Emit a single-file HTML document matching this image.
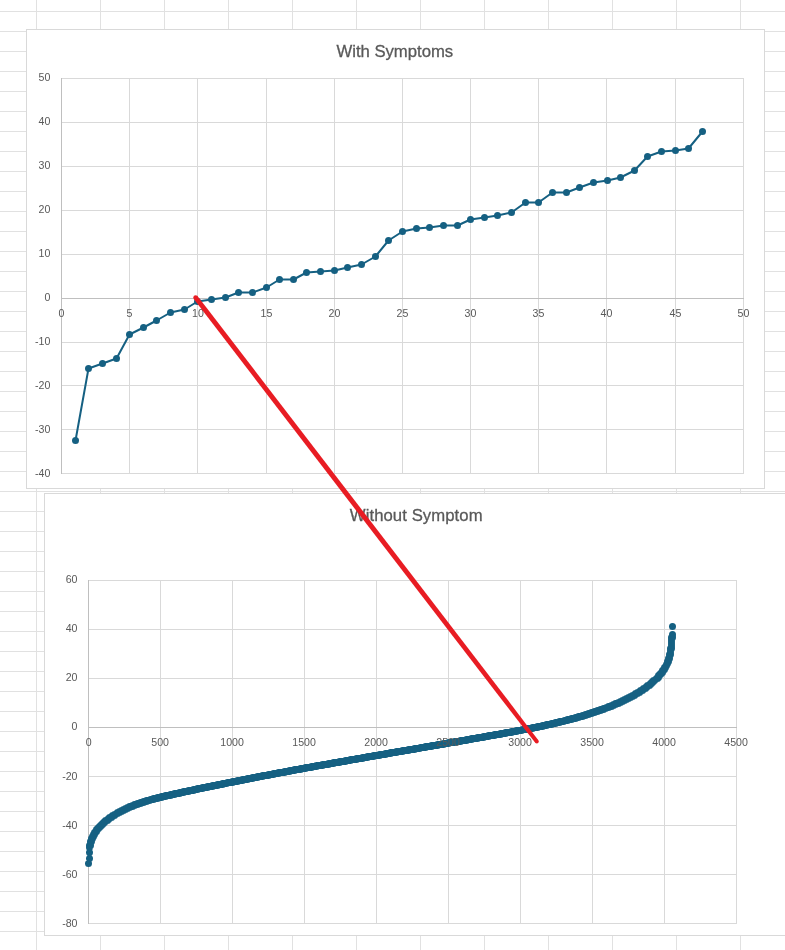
<!DOCTYPE html><html><head><meta charset="utf-8"><title>Charts</title>
<style>html,body{margin:0;padding:0;background:#fff;}body{width:785px;height:950px;overflow:hidden;position:relative;}svg{position:absolute;left:0;top:0;display:block;}text{font-family:"Liberation Sans",sans-serif;fill:#595959;}</style></head><body>
<svg width="785" height="950" viewBox="0 0 785 950">
<rect width="785" height="950" fill="#fff"/>
<path d="M36.5 0V950M100.5 0V950M164.5 0V950M228.5 0V950M292.5 0V950M356.5 0V950M420.5 0V950M484.5 0V950M548.5 0V950M612.5 0V950M676.5 0V950M740.5 0V950M0 11.5H785M0 31.5H785M0 51.5H785M0 71.5H785M0 91.5H785M0 111.5H785M0 131.5H785M0 151.5H785M0 171.5H785M0 191.5H785M0 211.5H785M0 231.5H785M0 251.5H785M0 271.5H785M0 291.5H785M0 311.5H785M0 331.5H785M0 351.5H785M0 371.5H785M0 391.5H785M0 411.5H785M0 431.5H785M0 451.5H785M0 471.5H785M0 491.5H785M0 511.5H785M0 531.5H785M0 551.5H785M0 571.5H785M0 591.5H785M0 611.5H785M0 631.5H785M0 651.5H785M0 671.5H785M0 691.5H785M0 711.5H785M0 731.5H785M0 751.5H785M0 771.5H785M0 791.5H785M0 811.5H785M0 831.5H785M0 851.5H785M0 871.5H785M0 891.5H785M0 911.5H785M0 931.5H785" stroke="#e1e1e1" stroke-width="1" fill="none"/>
<rect x="26.5" y="29.5" width="738.0" height="459.0" fill="#fff" stroke="#d9d9d9" stroke-width="1"/>
<path d="M129.5 78.0V474.0M197.5 78.0V474.0M266.5 78.0V474.0M334.5 78.0V474.0M402.5 78.0V474.0M470.5 78.0V474.0M538.5 78.0V474.0M606.5 78.0V474.0M675.5 78.0V474.0M743.5 78.0V474.0M61.0 78.5H744.0M61.0 122.5H744.0M61.0 166.5H744.0M61.0 210.5H744.0M61.0 254.5H744.0M61.0 342.5H744.0M61.0 385.5H744.0M61.0 429.5H744.0M61.0 473.5H744.0" stroke="#d9d9d9" stroke-width="1" fill="none"/>
<path d="M61.5 78.0V474.0M61.0 298.5H744.0" stroke="#bfbfbf" stroke-width="1" fill="none"/>
<polyline points="75.5,440.5 88.5,368.5 102.5,363.5 116.5,358.5 129.5,334.5 143.5,327.5 156.5,320.5 170.5,312.5 184.5,309.5 197.5,301.5 211.5,299.5 225.5,297.5 238.5,292.5 252.5,292.5 266.5,287.5 279.5,279.5 293.5,279.5 306.5,272.5 320.5,271.5 334.5,270.5 347.5,267.5 361.5,264.5 375.5,256.5 388.5,240.5 402.5,231.5 416.5,228.5 429.5,227.5 443.5,225.5 457.5,225.5 470.5,219.5 484.5,217.5 497.5,215.5 511.5,212.5 525.5,202.5 538.5,202.5 552.5,192.5 566.5,192.5 579.5,187.5 593.5,182.5 607.5,180.5 620.5,177.5 634.5,170.5 647.5,156.5 661.5,151.5 675.5,150.5 688.5,148.5 702.5,131.5" fill="none" stroke="#156082" stroke-width="2" stroke-linejoin="round" stroke-linecap="round"/>
<g fill="#156082"><circle cx="75.5" cy="440.5" r="3.5"/><circle cx="88.5" cy="368.5" r="3.5"/><circle cx="102.5" cy="363.5" r="3.5"/><circle cx="116.5" cy="358.5" r="3.5"/><circle cx="129.5" cy="334.5" r="3.5"/><circle cx="143.5" cy="327.5" r="3.5"/><circle cx="156.5" cy="320.5" r="3.5"/><circle cx="170.5" cy="312.5" r="3.5"/><circle cx="184.5" cy="309.5" r="3.5"/><circle cx="197.5" cy="301.5" r="3.5"/><circle cx="211.5" cy="299.5" r="3.5"/><circle cx="225.5" cy="297.5" r="3.5"/><circle cx="238.5" cy="292.5" r="3.5"/><circle cx="252.5" cy="292.5" r="3.5"/><circle cx="266.5" cy="287.5" r="3.5"/><circle cx="279.5" cy="279.5" r="3.5"/><circle cx="293.5" cy="279.5" r="3.5"/><circle cx="306.5" cy="272.5" r="3.5"/><circle cx="320.5" cy="271.5" r="3.5"/><circle cx="334.5" cy="270.5" r="3.5"/><circle cx="347.5" cy="267.5" r="3.5"/><circle cx="361.5" cy="264.5" r="3.5"/><circle cx="375.5" cy="256.5" r="3.5"/><circle cx="388.5" cy="240.5" r="3.5"/><circle cx="402.5" cy="231.5" r="3.5"/><circle cx="416.5" cy="228.5" r="3.5"/><circle cx="429.5" cy="227.5" r="3.5"/><circle cx="443.5" cy="225.5" r="3.5"/><circle cx="457.5" cy="225.5" r="3.5"/><circle cx="470.5" cy="219.5" r="3.5"/><circle cx="484.5" cy="217.5" r="3.5"/><circle cx="497.5" cy="215.5" r="3.5"/><circle cx="511.5" cy="212.5" r="3.5"/><circle cx="525.5" cy="202.5" r="3.5"/><circle cx="538.5" cy="202.5" r="3.5"/><circle cx="552.5" cy="192.5" r="3.5"/><circle cx="566.5" cy="192.5" r="3.5"/><circle cx="579.5" cy="187.5" r="3.5"/><circle cx="593.5" cy="182.5" r="3.5"/><circle cx="607.5" cy="180.5" r="3.5"/><circle cx="620.5" cy="177.5" r="3.5"/><circle cx="634.5" cy="170.5" r="3.5"/><circle cx="647.5" cy="156.5" r="3.5"/><circle cx="661.5" cy="151.5" r="3.5"/><circle cx="675.5" cy="150.5" r="3.5"/><circle cx="688.5" cy="148.5" r="3.5"/><circle cx="702.5" cy="131.5" r="3.5"/></g>
<text x="50.3" y="81.00" font-size="10.6" text-anchor="end">50</text>
<text x="50.3" y="125.00" font-size="10.6" text-anchor="end">40</text>
<text x="50.3" y="169.00" font-size="10.6" text-anchor="end">30</text>
<text x="50.3" y="213.00" font-size="10.6" text-anchor="end">20</text>
<text x="50.3" y="257.00" font-size="10.6" text-anchor="end">10</text>
<text x="50.3" y="301.00" font-size="10.6" text-anchor="end">0</text>
<text x="50.3" y="345.00" font-size="10.6" text-anchor="end">-10</text>
<text x="50.3" y="388.90" font-size="10.6" text-anchor="end">-20</text>
<text x="50.3" y="432.90" font-size="10.6" text-anchor="end">-30</text>
<text x="50.3" y="476.90" font-size="10.6" text-anchor="end">-40</text>
<text x="61.50" y="317.30" font-size="10.6" text-anchor="middle">0</text>
<text x="129.50" y="317.30" font-size="10.6" text-anchor="middle">5</text>
<text x="198.00" y="317.30" font-size="10.6" text-anchor="middle">10</text>
<text x="266.50" y="317.30" font-size="10.6" text-anchor="middle">15</text>
<text x="334.50" y="317.30" font-size="10.6" text-anchor="middle">20</text>
<text x="402.50" y="317.30" font-size="10.6" text-anchor="middle">25</text>
<text x="470.50" y="317.30" font-size="10.6" text-anchor="middle">30</text>
<text x="538.50" y="317.30" font-size="10.6" text-anchor="middle">35</text>
<text x="606.50" y="317.30" font-size="10.6" text-anchor="middle">40</text>
<text x="675.50" y="317.30" font-size="10.6" text-anchor="middle">45</text>
<text x="743.50" y="317.30" font-size="10.6" text-anchor="middle">50</text>
<text x="394.8" y="56.8" font-size="16.7" textLength="116.7" text-anchor="middle" id="t1" stroke="#595959" stroke-width="0.3">With Symptoms</text>
<rect x="44.5" y="493.5" width="744.0" height="442.0" fill="#fff" stroke="#d9d9d9" stroke-width="1"/>
<path d="M160.5 580.0V924.0M232.5 580.0V924.0M304.5 580.0V924.0M376.5 580.0V924.0M448.5 580.0V924.0M520.5 580.0V924.0M592.5 580.0V924.0M664.5 580.0V924.0M736.5 580.0V924.0M88.0 580.5H737.0M88.0 629.5H737.0M88.0 678.5H737.0M88.0 776.5H737.0M88.0 825.5H737.0M88.0 874.5H737.0M88.0 923.5H737.0" stroke="#d9d9d9" stroke-width="1" fill="none"/>
<path d="M88.5 580.0V924.0M88.0 727.5H737.0" stroke="#bfbfbf" stroke-width="1" fill="none"/>
<path d="M88.5 863.5h0M89.5 858.5h0M89.5 852.5h0M89.5 847.5h0M89.5 846.5h0M89.5 845.5h0M90.5 845.5h0M90.5 844.5h0M90.5 843.5h0M90.5 842.5h0M90.5 841.5h0M91.5 841.5h0M91.5 840.5h0M91.5 839.5h0M91.5 838.5h0M92.5 838.5h0M92.5 837.5h0M92.5 836.5h0M93.5 836.5h0M93.5 835.5h0M93.5 834.5h0M94.5 834.5h0M94.5 833.5h0M94.5 832.5h0M95.5 832.5h0M95.5 831.5h0M96.5 831.5h0M96.5 830.5h0M96.5 829.5h0M97.5 829.5h0M97.5 828.5h0M98.5 828.5h0M98.5 827.5h0M99.5 827.5h0M99.5 826.5h0M100.5 826.5h0M100.5 825.5h0M101.5 825.5h0M101.5 824.5h0M102.5 824.5h0M102.5 823.5h0M103.5 823.5h0M103.5 822.5h0M104.5 822.5h0M104.5 821.5h0M105.5 821.5h0M105.5 820.5h0M106.5 820.5h0M107.5 820.5h0M107.5 819.5h0M108.5 819.5h0M108.5 818.5h0M109.5 818.5h0M109.5 817.5h0M110.5 817.5h0M111.5 817.5h0M111.5 816.5h0M112.5 816.5h0M112.5 815.5h0M113.5 815.5h0M114.5 815.5h0M114.5 814.5h0M115.5 814.5h0M116.5 813.5h0M117.5 813.5h0M117.5 812.5h0M118.5 812.5h0M119.5 812.5h0M119.5 811.5h0M120.5 811.5h0M121.5 811.5h0M121.5 810.5h0M122.5 810.5h0M123.5 810.5h0M123.5 809.5h0M124.5 809.5h0M125.5 809.5h0M125.5 808.5h0M126.5 808.5h0M127.5 808.5h0M127.5 807.5h0M128.5 807.5h0M129.5 807.5h0M129.5 806.5h0M130.5 806.5h0M131.5 806.5h0M132.5 806.5h0M132.5 805.5h0M133.5 805.5h0M134.5 805.5h0M134.5 804.5h0M135.5 804.5h0M136.5 804.5h0M137.5 804.5h0M137.5 803.5h0M138.5 803.5h0M139.5 803.5h0M140.5 803.5h0M140.5 802.5h0M141.5 802.5h0M142.5 802.5h0M143.5 802.5h0M143.5 801.5h0M144.5 801.5h0M145.5 801.5h0M146.5 801.5h0M146.5 800.5h0M147.5 800.5h0M148.5 800.5h0M149.5 800.5h0M150.5 799.5h0M151.5 799.5h0M152.5 799.5h0M153.5 799.5h0M153.5 798.5h0M154.5 798.5h0M155.5 798.5h0M156.5 798.5h0M157.5 798.5h0M157.5 797.5h0M158.5 797.5h0M159.5 797.5h0M160.5 797.5h0M161.5 797.5h0M161.5 796.5h0M162.5 796.5h0M163.5 796.5h0M164.5 796.5h0M165.5 796.5h0M165.5 795.5h0M166.5 795.5h0M167.5 795.5h0M168.5 795.5h0M169.5 795.5h0M170.5 795.5h0M170.5 794.5h0M171.5 794.5h0M172.5 794.5h0M173.5 794.5h0M174.5 794.5h0M174.5 793.5h0M175.5 793.5h0M176.5 793.5h0M177.5 793.5h0M178.5 793.5h0M179.5 793.5h0M179.5 792.5h0M180.5 792.5h0M181.5 792.5h0M182.5 792.5h0M183.5 792.5h0M183.5 791.5h0M184.5 791.5h0M185.5 791.5h0M186.5 791.5h0M187.5 791.5h0M188.5 791.5h0M188.5 790.5h0M189.5 790.5h0M190.5 790.5h0M191.5 790.5h0M192.5 790.5h0M193.5 790.5h0M193.5 789.5h0M194.5 789.5h0M195.5 789.5h0M196.5 789.5h0M197.5 789.5h0M197.5 788.5h0M198.5 788.5h0M199.5 788.5h0M200.5 788.5h0M201.5 788.5h0M202.5 788.5h0M202.5 787.5h0M203.5 787.5h0M204.5 787.5h0M205.5 787.5h0M206.5 787.5h0M207.5 787.5h0M207.5 786.5h0M208.5 786.5h0M209.5 786.5h0M210.5 786.5h0M211.5 786.5h0M212.5 786.5h0M212.5 785.5h0M213.5 785.5h0M214.5 785.5h0M215.5 785.5h0M216.5 785.5h0M217.5 785.5h0M217.5 784.5h0M218.5 784.5h0M219.5 784.5h0M220.5 784.5h0M221.5 784.5h0M222.5 784.5h0M222.5 783.5h0M223.5 783.5h0M224.5 783.5h0M225.5 783.5h0M226.5 783.5h0M227.5 782.5h0M228.5 782.5h0M229.5 782.5h0M230.5 782.5h0M231.5 782.5h0M232.5 782.5h0M232.5 781.5h0M233.5 781.5h0M234.5 781.5h0M235.5 781.5h0M236.5 781.5h0M237.5 781.5h0M237.5 780.5h0M238.5 780.5h0M239.5 780.5h0M240.5 780.5h0M241.5 780.5h0M242.5 780.5h0M242.5 779.5h0M243.5 779.5h0M244.5 779.5h0M245.5 779.5h0M246.5 779.5h0M247.5 779.5h0M247.5 778.5h0M248.5 778.5h0M249.5 778.5h0M250.5 778.5h0M251.5 778.5h0M252.5 778.5h0M252.5 777.5h0M253.5 777.5h0M254.5 777.5h0M255.5 777.5h0M256.5 777.5h0M257.5 777.5h0M257.5 776.5h0M258.5 776.5h0M259.5 776.5h0M260.5 776.5h0M261.5 776.5h0M262.5 776.5h0M262.5 775.5h0M263.5 775.5h0M264.5 775.5h0M265.5 775.5h0M266.5 775.5h0M267.5 775.5h0M268.5 775.5h0M268.5 774.5h0M269.5 774.5h0M270.5 774.5h0M271.5 774.5h0M272.5 774.5h0M273.5 774.5h0M273.5 773.5h0M274.5 773.5h0M275.5 773.5h0M276.5 773.5h0M277.5 773.5h0M278.5 773.5h0M278.5 772.5h0M279.5 772.5h0M280.5 772.5h0M281.5 772.5h0M282.5 772.5h0M283.5 772.5h0M284.5 772.5h0M284.5 771.5h0M285.5 771.5h0M286.5 771.5h0M287.5 771.5h0M288.5 771.5h0M289.5 771.5h0M289.5 770.5h0M290.5 770.5h0M291.5 770.5h0M292.5 770.5h0M293.5 770.5h0M294.5 770.5h0M294.5 769.5h0M295.5 769.5h0M296.5 769.5h0M297.5 769.5h0M298.5 769.5h0M299.5 769.5h0M300.5 769.5h0M300.5 768.5h0M301.5 768.5h0M302.5 768.5h0M303.5 768.5h0M304.5 768.5h0M305.5 768.5h0M305.5 767.5h0M306.5 767.5h0M307.5 767.5h0M308.5 767.5h0M309.5 767.5h0M310.5 767.5h0M311.5 767.5h0M311.5 766.5h0M312.5 766.5h0M313.5 766.5h0M314.5 766.5h0M315.5 766.5h0M316.5 766.5h0M316.5 765.5h0M317.5 765.5h0M318.5 765.5h0M319.5 765.5h0M320.5 765.5h0M321.5 765.5h0M322.5 765.5h0M322.5 764.5h0M323.5 764.5h0M324.5 764.5h0M325.5 764.5h0M326.5 764.5h0M327.5 764.5h0M328.5 764.5h0M328.5 763.5h0M329.5 763.5h0M330.5 763.5h0M331.5 763.5h0M332.5 763.5h0M333.5 763.5h0M333.5 762.5h0M334.5 762.5h0M335.5 762.5h0M336.5 762.5h0M337.5 762.5h0M338.5 762.5h0M339.5 762.5h0M339.5 761.5h0M340.5 761.5h0M341.5 761.5h0M342.5 761.5h0M343.5 761.5h0M344.5 761.5h0M345.5 761.5h0M345.5 760.5h0M346.5 760.5h0M347.5 760.5h0M348.5 760.5h0M349.5 760.5h0M350.5 760.5h0M350.5 759.5h0M351.5 759.5h0M352.5 759.5h0M353.5 759.5h0M354.5 759.5h0M355.5 759.5h0M356.5 759.5h0M356.5 758.5h0M357.5 758.5h0M358.5 758.5h0M359.5 758.5h0M360.5 758.5h0M361.5 758.5h0M362.5 758.5h0M362.5 757.5h0M363.5 757.5h0M364.5 757.5h0M365.5 757.5h0M366.5 757.5h0M367.5 757.5h0M367.5 756.5h0M368.5 756.5h0M369.5 756.5h0M370.5 756.5h0M371.5 756.5h0M372.5 756.5h0M373.5 756.5h0M373.5 755.5h0M374.5 755.5h0M375.5 755.5h0M376.5 755.5h0M377.5 755.5h0M378.5 755.5h0M379.5 755.5h0M379.5 754.5h0M380.5 754.5h0M381.5 754.5h0M382.5 754.5h0M383.5 754.5h0M384.5 754.5h0M385.5 754.5h0M385.5 753.5h0M386.5 753.5h0M387.5 753.5h0M388.5 753.5h0M389.5 753.5h0M390.5 753.5h0M390.5 752.5h0M391.5 752.5h0M392.5 752.5h0M393.5 752.5h0M394.5 752.5h0M395.5 752.5h0M396.5 752.5h0M396.5 751.5h0M397.5 751.5h0M398.5 751.5h0M399.5 751.5h0M400.5 751.5h0M401.5 751.5h0M402.5 751.5h0M402.5 750.5h0M403.5 750.5h0M404.5 750.5h0M405.5 750.5h0M406.5 750.5h0M407.5 750.5h0M408.5 750.5h0M408.5 749.5h0M409.5 749.5h0M410.5 749.5h0M411.5 749.5h0M412.5 749.5h0M413.5 749.5h0M414.5 749.5h0M414.5 748.5h0M415.5 748.5h0M416.5 748.5h0M417.5 748.5h0M418.5 748.5h0M419.5 748.5h0M420.5 747.5h0M421.5 747.5h0M422.5 747.5h0M423.5 747.5h0M424.5 747.5h0M425.5 747.5h0M425.5 746.5h0M426.5 746.5h0M427.5 746.5h0M428.5 746.5h0M429.5 746.5h0M430.5 746.5h0M431.5 746.5h0M431.5 745.5h0M432.5 745.5h0M433.5 745.5h0M434.5 745.5h0M435.5 745.5h0M436.5 745.5h0M437.5 745.5h0M437.5 744.5h0M438.5 744.5h0M439.5 744.5h0M440.5 744.5h0M441.5 744.5h0M442.5 744.5h0M443.5 744.5h0M443.5 743.5h0M444.5 743.5h0M445.5 743.5h0M446.5 743.5h0M447.5 743.5h0M448.5 743.5h0M448.5 742.5h0M449.5 742.5h0M450.5 742.5h0M451.5 742.5h0M452.5 742.5h0M453.5 742.5h0M454.5 742.5h0M454.5 741.5h0M455.5 741.5h0M456.5 741.5h0M457.5 741.5h0M458.5 741.5h0M459.5 741.5h0M460.5 741.5h0M460.5 740.5h0M461.5 740.5h0M462.5 740.5h0M463.5 740.5h0M464.5 740.5h0M465.5 740.5h0M466.5 740.5h0M466.5 739.5h0M467.5 739.5h0M468.5 739.5h0M469.5 739.5h0M470.5 739.5h0M471.5 739.5h0M471.5 738.5h0M472.5 738.5h0M473.5 738.5h0M474.5 738.5h0M475.5 738.5h0M476.5 738.5h0M477.5 738.5h0M477.5 737.5h0M478.5 737.5h0M479.5 737.5h0M480.5 737.5h0M481.5 737.5h0M482.5 737.5h0M483.5 737.5h0M483.5 736.5h0M484.5 736.5h0M485.5 736.5h0M486.5 736.5h0M487.5 736.5h0M488.5 736.5h0M488.5 735.5h0M489.5 735.5h0M490.5 735.5h0M491.5 735.5h0M492.5 735.5h0M493.5 735.5h0M494.5 735.5h0M494.5 734.5h0M495.5 734.5h0M496.5 734.5h0M497.5 734.5h0M498.5 734.5h0M499.5 734.5h0M500.5 734.5h0M500.5 733.5h0M501.5 733.5h0M502.5 733.5h0M503.5 733.5h0M504.5 733.5h0M505.5 733.5h0M505.5 732.5h0M506.5 732.5h0M507.5 732.5h0M508.5 732.5h0M509.5 732.5h0M510.5 732.5h0M511.5 732.5h0M511.5 731.5h0M512.5 731.5h0M513.5 731.5h0M514.5 731.5h0M515.5 731.5h0M516.5 731.5h0M516.5 730.5h0M517.5 730.5h0M518.5 730.5h0M519.5 730.5h0M520.5 730.5h0M521.5 730.5h0M522.5 729.5h0M523.5 729.5h0M524.5 729.5h0M525.5 729.5h0M526.5 729.5h0M527.5 729.5h0M527.5 728.5h0M528.5 728.5h0M529.5 728.5h0M530.5 728.5h0M531.5 728.5h0M532.5 728.5h0M532.5 727.5h0M533.5 727.5h0M534.5 727.5h0M535.5 727.5h0M536.5 727.5h0M537.5 727.5h0M537.5 726.5h0M538.5 726.5h0M539.5 726.5h0M540.5 726.5h0M541.5 726.5h0M542.5 726.5h0M542.5 725.5h0M543.5 725.5h0M544.5 725.5h0M545.5 725.5h0M546.5 725.5h0M546.5 724.5h0M547.5 724.5h0M548.5 724.5h0M549.5 724.5h0M550.5 724.5h0M551.5 724.5h0M551.5 723.5h0M552.5 723.5h0M553.5 723.5h0M554.5 723.5h0M555.5 723.5h0M555.5 722.5h0M556.5 722.5h0M557.5 722.5h0M558.5 722.5h0M559.5 722.5h0M559.5 721.5h0M560.5 721.5h0M561.5 721.5h0M562.5 721.5h0M563.5 721.5h0M564.5 720.5h0M565.5 720.5h0M566.5 720.5h0M567.5 720.5h0M567.5 719.5h0M568.5 719.5h0M569.5 719.5h0M570.5 719.5h0M571.5 719.5h0M571.5 718.5h0M572.5 718.5h0M573.5 718.5h0M574.5 718.5h0M575.5 718.5h0M575.5 717.5h0M576.5 717.5h0M577.5 717.5h0M578.5 717.5h0M578.5 716.5h0M579.5 716.5h0M580.5 716.5h0M581.5 716.5h0M582.5 716.5h0M582.5 715.5h0M583.5 715.5h0M584.5 715.5h0M585.5 715.5h0M585.5 714.5h0M586.5 714.5h0M587.5 714.5h0M588.5 714.5h0M588.5 713.5h0M589.5 713.5h0M590.5 713.5h0M591.5 713.5h0M591.5 712.5h0M592.5 712.5h0M593.5 712.5h0M594.5 712.5h0M594.5 711.5h0M595.5 711.5h0M596.5 711.5h0M597.5 711.5h0M597.5 710.5h0M598.5 710.5h0M599.5 710.5h0M600.5 710.5h0M600.5 709.5h0M601.5 709.5h0M602.5 709.5h0M603.5 709.5h0M603.5 708.5h0M604.5 708.5h0M605.5 708.5h0M606.5 707.5h0M607.5 707.5h0M608.5 707.5h0M608.5 706.5h0M609.5 706.5h0M610.5 706.5h0M611.5 706.5h0M611.5 705.5h0M612.5 705.5h0M613.5 705.5h0M613.5 704.5h0M614.5 704.5h0M615.5 704.5h0M615.5 703.5h0M616.5 703.5h0M617.5 703.5h0M618.5 703.5h0M618.5 702.5h0M619.5 702.5h0M620.5 702.5h0M620.5 701.5h0M621.5 701.5h0M622.5 701.5h0M622.5 700.5h0M623.5 700.5h0M624.5 700.5h0M624.5 699.5h0M625.5 699.5h0M626.5 699.5h0M626.5 698.5h0M627.5 698.5h0M628.5 698.5h0M628.5 697.5h0M629.5 697.5h0M630.5 697.5h0M630.5 696.5h0M631.5 696.5h0M632.5 696.5h0M632.5 695.5h0M633.5 695.5h0M634.5 695.5h0M634.5 694.5h0M635.5 694.5h0M635.5 693.5h0M636.5 693.5h0M637.5 693.5h0M637.5 692.5h0M638.5 692.5h0M639.5 692.5h0M639.5 691.5h0M640.5 691.5h0M640.5 690.5h0M641.5 690.5h0M642.5 690.5h0M642.5 689.5h0M643.5 689.5h0M643.5 688.5h0M644.5 688.5h0M645.5 688.5h0M645.5 687.5h0M646.5 687.5h0M646.5 686.5h0M647.5 686.5h0M647.5 685.5h0M648.5 685.5h0M649.5 685.5h0M649.5 684.5h0M650.5 684.5h0M650.5 683.5h0M651.5 683.5h0M651.5 682.5h0M652.5 682.5h0M652.5 681.5h0M653.5 681.5h0M653.5 680.5h0M654.5 680.5h0M655.5 679.5h0M656.5 678.5h0M657.5 678.5h0M657.5 677.5h0M658.5 677.5h0M658.5 676.5h0M658.5 675.5h0M659.5 675.5h0M659.5 674.5h0M660.5 674.5h0M660.5 673.5h0M661.5 673.5h0M661.5 672.5h0M662.5 672.5h0M662.5 671.5h0M662.5 670.5h0M663.5 670.5h0M663.5 669.5h0M664.5 669.5h0M664.5 668.5h0M664.5 667.5h0M665.5 667.5h0M665.5 666.5h0M666.5 665.5h0M666.5 664.5h0M667.5 663.5h0M667.5 662.5h0M667.5 661.5h0M668.5 661.5h0M668.5 660.5h0M668.5 659.5h0M668.5 658.5h0M669.5 658.5h0M669.5 657.5h0M669.5 656.5h0M669.5 655.5h0M669.5 654.5h0M670.5 654.5h0M670.5 653.5h0M670.5 652.5h0M670.5 651.5h0M670.5 650.5h0M670.5 649.5h0M670.5 648.5h0M671.5 648.5h0M671.5 647.5h0M671.5 646.5h0M671.5 645.5h0M671.5 644.5h0M671.5 643.5h0M671.5 642.5h0M671.5 641.5h0M671.5 640.5h0M671.5 639.5h0M671.5 638.5h0M671.5 637.5h0M672.5 637.5h0M672.5 636.5h0M672.5 635.5h0M672.5 634.5h0M672.5 626.5h0" fill="none" stroke="#156082" stroke-width="7" stroke-linecap="round"/>
<text x="77.5" y="583.10" font-size="10.6" text-anchor="end">60</text>
<text x="77.5" y="632.10" font-size="10.6" text-anchor="end">40</text>
<text x="77.5" y="681.10" font-size="10.6" text-anchor="end">20</text>
<text x="77.5" y="730.10" font-size="10.6" text-anchor="end">0</text>
<text x="77.5" y="780.10" font-size="10.6" text-anchor="end">-20</text>
<text x="77.5" y="829.10" font-size="10.6" text-anchor="end">-40</text>
<text x="77.5" y="878.10" font-size="10.6" text-anchor="end">-60</text>
<text x="77.5" y="927.10" font-size="10.6" text-anchor="end">-80</text>
<text x="88.60" y="746.20" font-size="10.6" text-anchor="middle">0</text>
<text x="160.10" y="746.20" font-size="10.6" text-anchor="middle">500</text>
<text x="232.10" y="746.20" font-size="10.6" text-anchor="middle">1000</text>
<text x="304.10" y="746.20" font-size="10.6" text-anchor="middle">1500</text>
<text x="376.10" y="746.20" font-size="10.6" text-anchor="middle">2000</text>
<text x="448.10" y="746.20" font-size="10.6" text-anchor="middle">2500</text>
<text x="520.10" y="746.20" font-size="10.6" text-anchor="middle">3000</text>
<text x="592.10" y="746.20" font-size="10.6" text-anchor="middle">3500</text>
<text x="664.10" y="746.20" font-size="10.6" text-anchor="middle">4000</text>
<text x="736.10" y="746.20" font-size="10.6" text-anchor="middle">4500</text>
<text x="416.2" y="521.2" font-size="16.7" textLength="132.8" text-anchor="middle" id="t2" stroke="#595959" stroke-width="0.3">Without Symptom</text>
<polygon points="193.78,298.90 203.93,312.28 364.22,521.02 500.82,698.53 524.90,729.46 535.25,742.69 538.35,740.31 528.23,726.90 504.54,695.67 368.18,517.98 207.74,309.36 197.42,296.10" fill="#e81c23"/>
<circle cx="195.6" cy="297.5" r="2.3" fill="#e81c23"/><circle cx="536.8" cy="741.5" r="1.95" fill="#e81c23"/>
</svg></body></html>
